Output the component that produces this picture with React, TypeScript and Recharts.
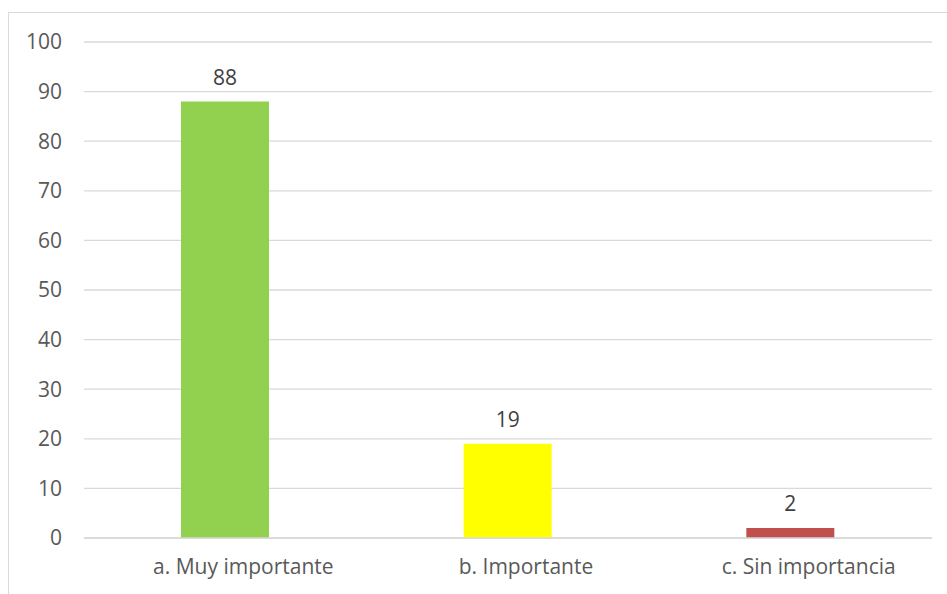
import React from 'react'
import { BarChart, Bar, XAxis, YAxis, CartesianGrid, LabelList, Cell } from 'recharts'

const categories = ['a. Muy importante', 'b. Importante', 'c. Sin importancia']
const counts = [88, 19, 2]
const barColors = ['#92D050', '#FFFF00', '#C0504D']
const yTicks = [0, 10, 20, 30, 40, 50, 60, 70, 80, 90, 100]

const data = categories.map((name, i) => ({ name, value: counts[i] }))

const font = '"Open Sans", "Liberation Sans", sans-serif'

export default function App() {
  return (
    <div style={{ position: 'fixed', left: 0, top: 0, width: 947, height: 594, overflow: 'hidden', background: '#fff' }}>
      <div
        style={{
          position: 'absolute',
          left: 8,
          top: 12,
          width: 1000,
          height: 620,
          borderTop: '1px solid #d9d9d9',
          borderLeft: '1px solid #d9d9d9',
          fontFamily: font,
        }}
      >
        <BarChart
          width={938}
          height={580}
          data={data}
          margin={{ top: 29, right: 15, bottom: 5, left: 0 }}
        >
          <CartesianGrid vertical={false} stroke="#d9d9d9" strokeWidth={1.3} />
          <XAxis
            dataKey="name"
            axisLine={{ stroke: '#d9d9d9', strokeWidth: 1.3 }}
            tickLine={false}
            tickSize={0}
            tickMargin={21}
            height={50}
            tick={{ fill: '#595959', fontSize: 21, fontFamily: font, dx: 18 }}
          />
          <YAxis
            domain={[0, 100]}
            ticks={yTicks}
            axisLine={false}
            tickLine={false}
            tickSize={0}
            tickMargin={22}
            width={75}
            interval={0}
            tick={{ fill: '#595959', fontSize: 21, fontFamily: font }}
          />
          <Bar dataKey="value" barSize={88} isAnimationActive={false}>
            {data.map((d, i) => (
              <Cell key={d.name} fill={barColors[i]} />
            ))}
            <LabelList
              dataKey="value"
              position="top"
              offset={17}
              fill="#404040"
              fontSize={21}
              fontFamily={font}
            />
          </Bar>
        </BarChart>
      </div>
    </div>
  )
}
